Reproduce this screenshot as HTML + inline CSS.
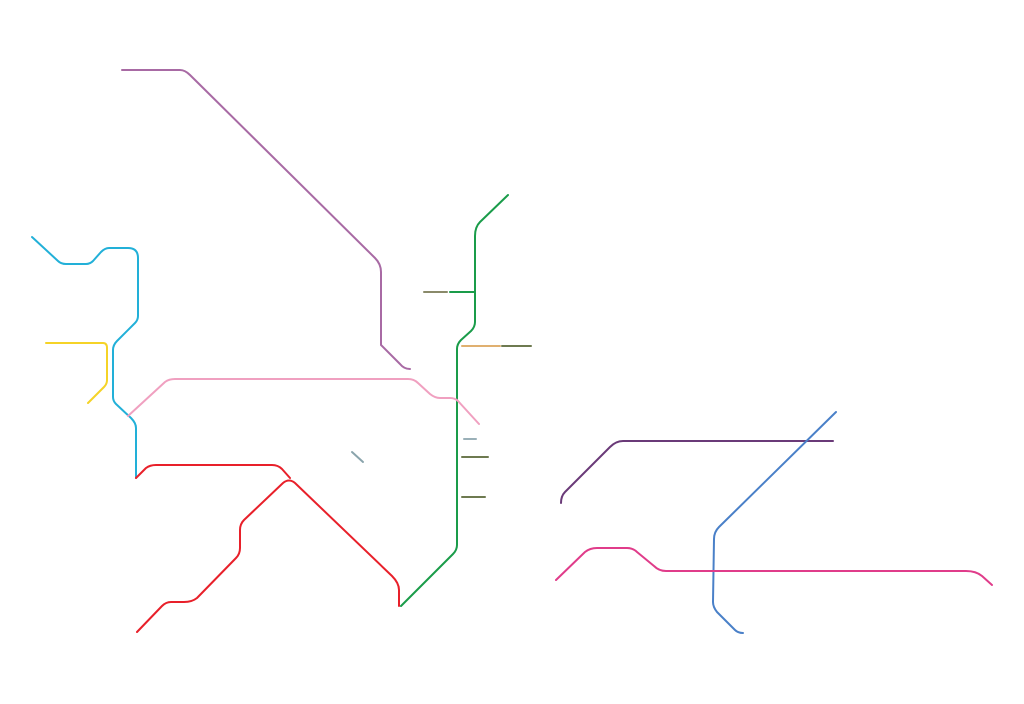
<!DOCTYPE html>
<html><head><meta charset="utf-8"><style>html,body{margin:0;padding:0;background:#fff}svg{display:block}</style></head>
<body>
<svg width="1024" height="704" viewBox="0 0 1024 704" xmlns="http://www.w3.org/2000/svg" fill="none" stroke-width="2" stroke-linecap="round" stroke-linejoin="round">
<path stroke="#a86aa4" d="M122,70 H180 Q185,70 190,75 L375,258 Q381,264 381,272 V345 L400,364 Q404,369 410,369"/>
<path stroke="#1a9c4a" d="M508,195 L480,222 Q475,227 475,236 V322 Q475,327 471,331 L461,340 Q457,344 457,349 V545 Q457,550 453,554 L401,606"/>
<path stroke="#8a8a6a" d="M424,292 H447"/>
<path stroke="#1a9c4a" d="M450,292 H475"/>
<path stroke="#e0b070" d="M462,346 H500"/>
<path stroke="#6e7a50" d="M502,346 H531"/>
<path stroke="#9ab0b8" d="M464,439 H476"/>
<path stroke="#6e7a50" d="M462,457 H488 M462,497 H485"/>
<path stroke="#8aa4ac" d="M352,452 L363,462"/>
<path stroke="#22b0d8" d="M32,237 L58,261 Q61,264 66,264 H86 Q90,264 93,261 L101,252 Q105,248 109,248 H128 Q138,248 138,258 V316 Q138,320 135,323 L117,341 Q113,345 113,350 V397 Q113,401 116,404 L131,418 Q136,423 136,428 V478"/>
<path stroke="#f5d327" d="M46,343 H103 Q107,343 107,348 V380 Q107,384 104,387 L88,403"/>
<path stroke="#f0a0c0" d="M128,416 L165,382 Q169,379 175,379 H408 Q414,379 418,383 L430,394 Q435,398 440,398 H450 Q455,398 458,401 L479,424"/>
<path stroke="#e8202a" d="M136,478 L146,468 Q150,465 156,465 H272 Q278,465 282,469 L290,478"/>
<path stroke="#e8202a" d="M137,632 L162,606 Q166,602 171,602 H184 Q192,602 197,598 L236,558 Q240,554 240,548 V530 Q240,524 244,520 L283,483 Q289,478 295,483 L392,576 Q399,583 399,590 V606"/>
<path stroke="#6a3a78" d="M561,503 Q561,496 565,492 L610,447 Q616,441 623,441 H833"/>
<path stroke="#4a80c8" d="M836,412 L719,527 Q714,532 714,539 L713,602 Q713,607 717,612 L735,630 Q738,633 743,633"/>
<path stroke="#e03c8a" d="M556,580 L585,552 Q590,548 597,548 H627 Q633,548 637,552 L654,566 Q659,571 666,571 H966 Q976,571 982,576 L992,585"/>
</svg>
</body></html>
